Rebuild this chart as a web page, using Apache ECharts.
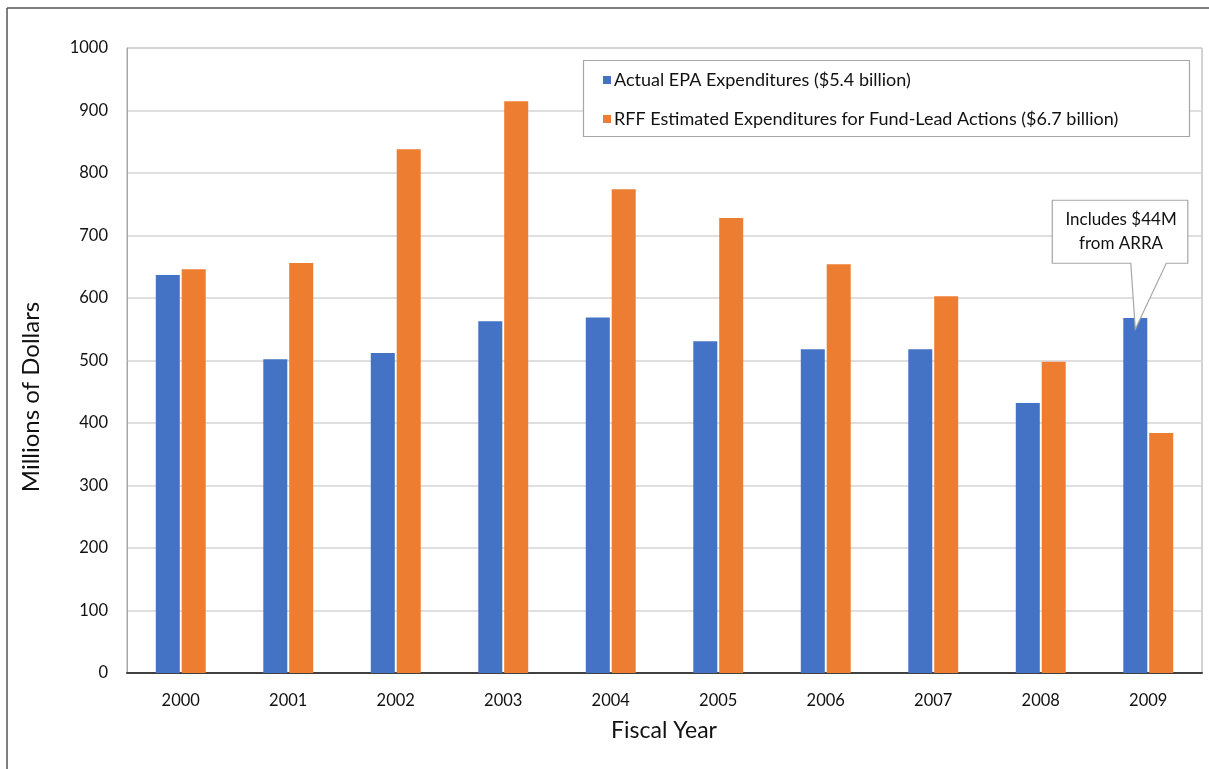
<!DOCTYPE html>
<html>
<head>
<meta charset="utf-8">
<script src="https://cdn.jsdelivr.net/npm/echarts@6/dist/echarts.min.js"></script>
<style>
html,body{margin:0;padding:0;background:#fff;}
#chart{width:1209px;height:769px;}
</style>
</head>
<body>
<div id="chart"></div>
<script>
const years = ['2000','2001','2002','2003','2004','2005','2006','2007','2008','2009'];
const actualEPA = [637, 502, 512, 563, 569, 531, 518, 518, 432, 568];
const rffEstimated = [646, 656, 838, 915, 774, 728, 654, 603, 498, 384];
const seriesNames = ['Actual EPA Expenditures ($5.4 billion)', 'RFF Estimated Expenditures for Fund-Lead Actions ($6.7 billion)'];
const yTicks = [0, 1000, 100];
const xTitle = 'Fiscal Year';
const yTitle = 'Millions of Dollars';
const calloutLines = ['Includes $44M', 'from ARRA'];
const calloutYearIndex = 9;
const calloutValue = 550;

const FONT = 'Lato';
const chart = echarts.init(document.getElementById('chart'));

const option = {
  animation: false,
  textStyle: { fontFamily: FONT },
  grid: { left: 127, top: 48, right: 7, bottom: 96, show: true, borderColor: '#a6a6a6', borderWidth: 1, backgroundColor: 'transparent' },
  legend: {
    data: seriesNames,
    orient: 'vertical',
    left: 598,
    top: 65,
    itemWidth: 8,
    itemHeight: 8,
    itemGap: 19,
    icon: 'rect',
    textStyle: { fontFamily: FONT, fontSize: 18, color: '#111', lineHeight: 20, padding: [0, 0, 0, -2] },
    z: 6
  },
  xAxis: {
    type: 'category',
    data: years,
    axisLine: { lineStyle: { color: '#404040', width: 2 } },
    axisTick: { show: false },
    axisLabel: { fontFamily: FONT, fontSize: 16.5, color: '#111', margin: 19 }
  },
  yAxis: {
    type: 'value',
    min: yTicks[0],
    max: yTicks[1],
    interval: yTicks[2],
    axisLine: { show: true, lineStyle: { color: '#a6a6a6', width: 1 } },
    axisTick: { show: false },
    axisLabel: { fontFamily: FONT, fontSize: 16.5, color: '#111', margin: 19, formatter: function (v) { return String(v); } },
    splitLine: { lineStyle: { color: '#d4d4d4', width: 1.5 } }
  },
  series: [
    {
      name: seriesNames[0], type: 'bar', data: actualEPA, barWidth: 24, barGap: '8%',
      itemStyle: { color: '#4472C4' }
    },
    {
      name: seriesNames[1], type: 'bar', data: rffEstimated, barWidth: 24, barGap: '8%',
      itemStyle: { color: '#ED7D31' }
    }
  ],
  graphic: [
    { type: 'line', z: 20, shape: { x1: 7, y1: 8, x2: 1209, y2: 8 }, style: { stroke: '#555', lineWidth: 1.5 } },
    { type: 'line', z: 20, shape: { x1: 7, y1: 8, x2: 7, y2: 769 }, style: { stroke: '#555', lineWidth: 1.5 } },
    { type: 'rect', z: 3, shape: { x: 583.5, y: 60.5, width: 606, height: 76 }, style: { fill: '#fff', stroke: '#a6a6a6', lineWidth: 1.2 } },
    { type: 'text', z: 20, x: 664, y: 731,
      style: { text: xTitle, font: '23px ' + FONT, fill: '#111', align: 'center', verticalAlign: 'middle' } },
    { type: 'text', z: 20, x: 31, y: 397, rotation: Math.PI / 2,
      style: { text: yTitle, font: '24px ' + FONT, fill: '#111', align: 'center', verticalAlign: 'middle' } }
  ]
};
chart.setOption(option);

// Build callout anchored to the bar through the chart's own scale
(function () {
  let cx, cy;
  const p = chart.convertToPixel({ seriesIndex: 0 }, [calloutYearIndex, calloutValue]);
  cy = p[1];
  try {
    const layout = chart.getModel().getSeriesByIndex(0).getData().getItemLayout(calloutYearIndex);
    cx = layout.x + layout.width / 2;
  } catch (e) {
    cx = p[0] - 13;
  }
  const boxL = cx - 83, boxR = cx + 52.5, boxT = cy - 129, boxB = cy - 66;
  const baseL = cx - 4.5, baseR = cx + 31;
  const pts = [[boxL, boxT], [boxR, boxT], [boxR, boxB], [baseR, boxB], [cx, cy], [baseL, boxB], [boxL, boxB]];
  const g = option.graphic.slice();
  g.push({ type: 'polygon', z: 15, shape: { points: pts }, style: { fill: '#fff', stroke: '#a6a6a6', lineWidth: 1.2 } });
  g.push({ type: 'text', z: 16, x: (boxL + boxR) / 2 + 1, y: (boxT + boxB) / 2,
    style: { text: calloutLines.join('\n'), font: '17px ' + FONT, fill: '#111', align: 'center', verticalAlign: 'middle', lineHeight: 24 } });
  chart.setOption({ graphic: g });
})();
</script>
</body>
</html>
